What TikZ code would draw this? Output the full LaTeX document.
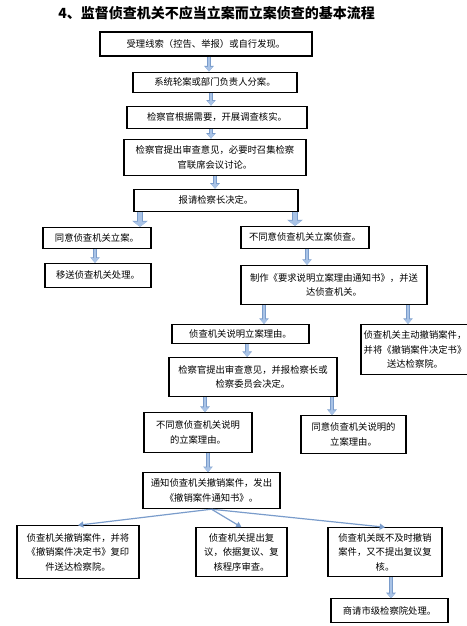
\documentclass[tikz,border=0pt]{standalone}
\usepackage{fontspec}
\setmainfont{Noto Sans CJK SC}
\usetikzlibrary{arrows.meta, positioning}
\definecolor{flowfill}{HTML}{A9C3E6}
\definecolor{flowedge}{HTML}{7A9CCB}

\begin{document}
\begin{tikzpicture}[
    box/.style={draw, line width=0.8pt, align=center, inner sep=1pt, font=\fontsize{7}{11}\selectfont},
    flow/.style={draw=flowfill, line width=2pt, -{Triangle[length=3.5pt, width=5.5pt]},
        preaction={draw=flowedge, line width=3pt, -{Triangle[length=4.2pt, width=7pt]}}},
    wideflow/.style={draw=flowfill, line width=3.6pt, -{Triangle[length=3.8pt, width=10pt]},
        preaction={draw=flowedge, line width=4.6pt, -{Triangle[length=4.5pt, width=11.5pt]}}},
    link/.style={draw=flowedge, line width=0.9pt, -{Triangle[length=4pt, width=4.5pt]}}
]
    \useasboundingbox (0,0) rectangle (350.25pt,-469.5pt);

    % Title
    \node[font=\fontsize{10.5}{12}\selectfont\bfseries, inner sep=0pt] (title) at (162.4pt,-9.75pt) {4、监督侦查机关不应当立案而立案侦查的基本流程};

    % Main chain
    \node[box, minimum width=159pt, minimum height=18pt] (b1) at (154.5pt,-33pt) {受理线索（控告、举报）或自行发现。};
    \node[box, minimum width=123pt, minimum height=15pt, below=11.25pt of b1, xshift=6.75pt] (b2) {系统轮案或部门负责人分案。};
    \node[box, minimum width=135pt, minimum height=16.5pt, below=9.75pt of b2, xshift=1.5pt] (b3) {检察官根据需要，开展调查核实。};
    \node[box, minimum width=136.5pt, minimum height=27pt, below=7.5pt of b3, xshift=-1.5pt] (b4) {检察官提出审查意见，必要时召集检察\\官联席会议讨论。};
    \node[box, minimum width=123pt, minimum height=16.5pt, below=9.75pt of b4, xshift=0.75pt] (b5) {报请检察长决定。};

    % Decision branches
    \node[box, minimum width=81pt, minimum height=15.75pt, below=11.25pt of b5, xshift=-89.25pt] (b6) {同意侦查机关立案。};
    \node[box, minimum width=96pt, minimum height=16.5pt, below=10.5pt of b5, xshift=66.75pt] (b7) {不同意侦查机关立案侦查。};
    \node[box, minimum width=79.5pt, minimum height=18pt, below=10.5pt of b6, xshift=0.75pt] (b8) {移送侦查机关处理。};
    \node[box, minimum width=139.5pt, minimum height=29.25pt, below=12pt of b7, xshift=21.75pt] (b9) {制作《要求说明立案理由通知书》，并送\\达侦查机关。};

    % Reasons
    \node[box, minimum width=102.75pt, minimum height=14.25pt, below=14.25pt of b9, xshift=-70.125pt] (b10) {侦查机关说明立案理由。};
    \node[box, minimum width=81pt, minimum height=37.5pt, below=14.25pt of b9, xshift=60.75pt] (b11) {侦查机关主动撤销案件，\\并将《撤销案件决定书》\\送达检察院。};
    \node[box, minimum width=126pt, minimum height=29.25pt, below=9.75pt of b10, xshift=9.375pt] (b12) {检察官提出审查意见，并报检察长或\\检察委员会决定。};
    \node[box, minimum width=81pt, minimum height=30pt, below=11.25pt of b12, xshift=-41.25pt] (b13) {不同意侦查机关说明\\的立案理由。};
    \node[box, minimum width=78.75pt, minimum height=28.5pt, below=13.5pt of b12, xshift=75.375pt] (b14) {同意侦查机关说明的\\立案理由。};

    % Notice and outcomes
    \node[box, minimum width=102.75pt, minimum height=27pt, below=14.25pt of b13, xshift=10.125pt] (b15) {通知侦查机关撤销案件，发出\\《撤销案件通知书》。};
    \node[box, minimum width=91.5pt, minimum height=39.75pt, below=12pt of b15, xshift=-100.125pt] (b16) {侦查机关撤销案件，并将\\《撤销案件决定书》复印\\件送达检察院。};
    \node[box, minimum width=68.25pt, minimum height=36.75pt, below=13.5pt of b15, xshift=22.5pt] (b17) {侦查机关提出复\\议，依据复议、复\\核程序审查。};
    \node[box, minimum width=85.5pt, minimum height=36.75pt, below=13.5pt of b15, xshift=130.125pt] (b18) {侦查机关既不及时撤销\\案件，又不提出复议复\\核。};
    \node[box, minimum width=87.75pt, minimum height=18pt, below=15.75pt of b18, xshift=3.375pt] (b19) {商请市级检察院处理。};

    % Arrows
    \draw[flow] ([xshift=2.25pt]b1.south) -- ([xshift=2.25pt]b1.south |- b2.north);
    \draw[flow] ([xshift=-3pt]b2.south) -- ([xshift=-3pt]b2.south |- b3.north);
    \draw[flow] ([xshift=-4.5pt]b3.south) -- ([xshift=-4.5pt]b3.south |- b4.north);
    \draw[flow] (b4.south) -- (b4.south |- b5.north);
    \draw[wideflow] ([xshift=-57pt]b5.south) -- ([xshift=-57pt]b5.south |- b6.north);
    \draw[wideflow] ([xshift=59.25pt]b5.south) -- ([xshift=59.25pt]b5.south |- b7.north);
    \draw[flow] ([xshift=-1.5pt]b6.south) -- ([xshift=-1.5pt]b6.south |- b8.north);
    \draw[flow] ([xshift=1.5pt]b7.south) -- ([xshift=1.5pt]b7.south |- b9.north);
    \draw[flow] ([xshift=-52.5pt]b9.south) -- ([xshift=-52.5pt]b9.south |- b10.north);
    \draw[flow] ([xshift=55.5pt]b9.south) -- ([xshift=55.5pt]b9.south |- b11.north);
    \draw[flow] ([xshift=5pt]b10.south) -- ([xshift=5pt]b10.south |- b12.north);
    \draw[flow] ([xshift=-36pt]b12.south) -- ([xshift=-36pt]b12.south |- b13.north);
    \draw[flow] ([xshift=59.25pt]b12.south) -- ([xshift=59.25pt]b12.south |- b14.north);
    \draw[flow] ([xshift=7.5pt]b13.south) -- ([xshift=7.5pt]b13.south |- b15.north);
    \draw[link] (b15.south) -- (b16.north);
    \draw[link] (b15.south) -- (b17.north);
    \draw[link] (b15.south) -- (b18.north);
    \draw[flow] ([xshift=4.5pt]b18.south) -- ([xshift=4.5pt]b18.south |- b19.north);

\end{tikzpicture}
\end{document}
